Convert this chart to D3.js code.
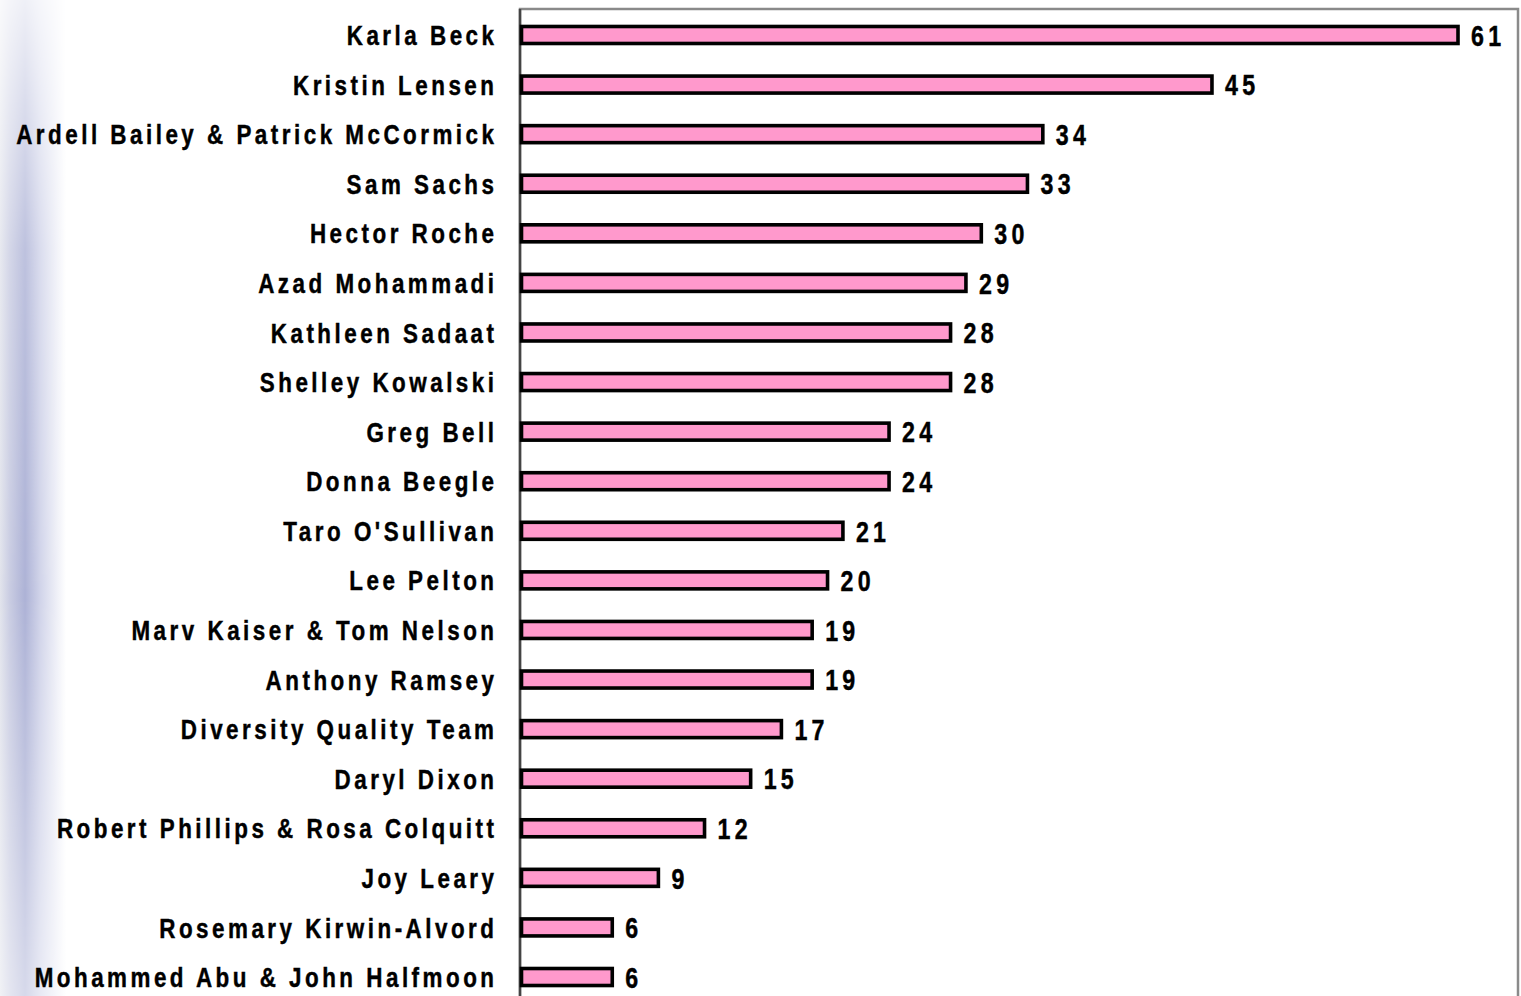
<!DOCTYPE html>
<html>
<head>
<meta charset="utf-8">
<script src="https://cdn.jsdelivr.net/npm/d3@7"></script>
<style>
  html, body { margin: 0; padding: 0; background: #ffffff; }
  svg { display: block; }
  text { font-family: "Liberation Sans", Arial, sans-serif; font-weight: bold; fill: #000; stroke: #000; stroke-width: 0.45px; }
</style>
</head>
<body>
<script>
const names = [
  "Karla Beck", "Kristin Lensen", "Ardell Bailey & Patrick McCormick", "Sam Sachs",
  "Hector Roche", "Azad Mohammadi", "Kathleen Sadaat", "Shelley Kowalski",
  "Greg Bell", "Donna Beegle", "Taro O'Sullivan", "Lee Pelton",
  "Marv Kaiser & Tom Nelson", "Anthony Ramsey", "Diversity Quality Team", "Daryl Dixon",
  "Robert Phillips & Rosa Colquitt", "Joy Leary", "Rosemary Kirwin-Alvord", "Mohammed Abu & John Halfmoon"
];
const values = [61, 45, 34, 33, 30, 29, 28, 28, 24, 24, 21, 20, 19, 19, 17, 15, 12, 9, 6, 6];

(function () {
const W = 1521, H = 996;
const svg = d3.select("body").append("svg").attr("width", W).attr("height", H);
const defs = svg.append("defs");

// left decorative gradient
const hg = defs.append("linearGradient").attr("id", "hg").attr("x1", 0).attr("x2", 1).attr("y1", 0).attr("y2", 0);
hg.append("stop").attr("offset", "0").attr("stop-color", "#e2e4ec");
hg.append("stop").attr("offset", "0.15").attr("stop-color", "#c9cce2");
hg.append("stop").attr("offset", "0.38").attr("stop-color", "#adb2d6");
hg.append("stop").attr("offset", "0.62").attr("stop-color", "#d2d5ea");
hg.append("stop").attr("offset", "1").attr("stop-color", "#ffffff");
const vg = defs.append("linearGradient").attr("id", "vg").attr("x1", 0).attr("x2", 0).attr("y1", 0).attr("y2", 1);
vg.append("stop").attr("offset", "0").attr("stop-color", "#fff").attr("stop-opacity", 0.2);
vg.append("stop").attr("offset", "0.25").attr("stop-color", "#fff").attr("stop-opacity", 0.8);
vg.append("stop").attr("offset", "0.6").attr("stop-color", "#fff").attr("stop-opacity", 1);
vg.append("stop").attr("offset", "1").attr("stop-color", "#fff").attr("stop-opacity", 0.5);
const mask = defs.append("mask").attr("id", "vm").attr("maskUnits", "userSpaceOnUse")
  .attr("x", 0).attr("y", 0).attr("width", 80).attr("height", H);
mask.append("rect").attr("x", 0).attr("y", 0).attr("width", 80).attr("height", H).attr("fill", "url(#vg)");
svg.append("rect").attr("x", 0).attr("y", 0).attr("width", 66).attr("height", H)
  .attr("fill", "url(#hg)").attr("mask", "url(#vm)");

// plot frame
const x0 = 520, frameTop = 9, frameRight = 1518;
const x = d3.scaleLinear().domain([0, 61]).range([x0, 1458]);
const y = d3.scaleBand().domain(names).range([10.2, 10.2 + names.length * 49.58]).padding(0);

svg.append("rect").attr("x", x0).attr("y", frameTop).attr("width", frameRight - x0).attr("height", H + 20)
  .attr("fill", "none").attr("stroke", "#8a8a8a").attr("stroke-width", 2.5);
svg.append("line").attr("x1", x0).attr("x2", x0).attr("y1", frameTop).attr("y2", H)
  .attr("stroke", "#444").attr("stroke-width", 2.5);

const barH = 17;
svg.append("g").selectAll("rect").data(values).join("rect")
  .attr("x", x(0) + 1.5)
  .attr("y", (d, i) => y(names[i]) + y.bandwidth() / 2 - barH / 2)
  .attr("width", d => x(d) - x(0) - 1.5)
  .attr("height", barH)
  .attr("fill", "#ff99cc").attr("stroke", "#000").attr("stroke-width", 3.6);

// narrow-looking text: horizontally compressed Liberation Sans Bold
const sx = 0.8, fs = 28;
const labels = svg.append("g").selectAll("text").data(names).join("text")
  .attr("dy", "0.36em")
  .attr("text-anchor", "end")
  .style("font-size", fs + "px")
  .text(d => d);

// fit letter spacing so the longest label spans x≈16..494
const longestName = "Ardell Bailey & Patrick McCormick";
const baseW = labels.filter(d => d === longestName).node().getComputedTextLength();
const ls = Math.max(0, (478 / sx - baseW) / (longestName.length - 1));
labels.style("letter-spacing", ls + "px")
  .attr("transform", d => `translate(${494 + ls * sx},${y(d) + y.bandwidth() / 2}) scale(${sx},1)`);

svg.append("g").selectAll("text").data(values).join("text")
  .attr("transform", (d, i) => `translate(${x(d) + 13},${y(names[i]) + y.bandwidth() / 2}) scale(${sx},1)`)
  .attr("dy", "0.37em")
  .style("font-size", (fs + 1) + "px")
  .style("letter-spacing", (ls + 1) + "px")
  .text(d => d);
})();
</script>
</body>
</html>
